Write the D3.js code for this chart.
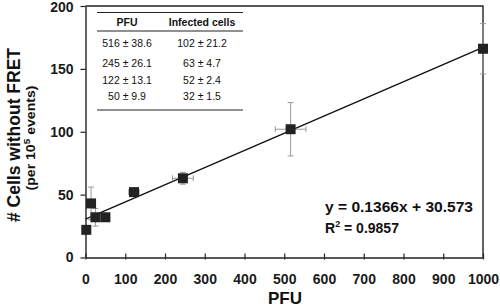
<!DOCTYPE html>
<html>
<head>
<meta charset="utf-8">
<script src="https://cdn.jsdelivr.net/npm/d3@7"></script>
<style>
  body { margin: 0; background: #fff; }
  svg { font-family: "Liberation Sans", Arial, sans-serif; }
</style>
</head>
<body>
<script>
// Data
var pfu      = [2, 14, 25, 50, 122, 245, 516, 1000];
var pfuErr   = [0, 0, 8, 9.9, 13.1, 26.1, 38.6, 0];
var cells    = [22, 43, 32, 32, 52, 63, 102, 166];
var cellsErr = [0, 13, 7, 1.5, 2.4, 4.7, 21.2, 20];

var xTicks = [0, 100, 200, 300, 400, 500, 600, 700, 800, 900, 1000];
var yTicks = [0, 50, 100, 150, 200];

// Table in the upper left
var tableHeader = ["PFU", "Infected cells"];
var tablePfu   = ["516 ± 38.6", "245 ± 26.1", "122 ± 13.1", "50 ± 9.9"];
var tableCells = ["102 ± 21.2", "63 ± 4.7", "52 ± 2.4", "32 ± 1.5"];

// Linear fit
var slope = 0.1366;
var intercept = 30.573;
var r2 = 0.9857;

var w = 500;
var h = 308;

var dataset = pfu.map(function(d, i) {
  return { x: d, y: cells[i], ex: pfuErr[i], ey: cellsErr[i] };
});

var xScale = d3.scaleLinear().domain([0, 1000]).range([85.5, 483]);
var yScale = d3.scaleLinear().domain([0, 200]).range([257.5, 6]);

var svg = d3.select("body")
  .append("svg")
  .attr("width", w)
  .attr("height", h);

// Frame (top and right)
svg.append("path")
  .attr("d", "M" + xScale(0) + "," + yScale(200) + "H" + xScale(1000) + "V" + yScale(0))
  .attr("fill", "none")
  .attr("stroke", "#222")
  .attr("stroke-width", 1.4);

// Axes
var xAxis = d3.axisBottom(xScale).tickValues(xTicks).tickFormat(d3.format("d"))
  .tickSizeInner(-4).tickSizeOuter(0).tickPadding(17);
var yAxis = d3.axisLeft(yScale).tickValues(yTicks).tickFormat(d3.format("d"))
  .tickSizeInner(5).tickSizeOuter(0).tickPadding(7);

var gx = svg.append("g")
  .attr("transform", "translate(0," + yScale(0) + ")")
  .call(xAxis);
var gy = svg.append("g")
  .attr("transform", "translate(" + xScale(0) + ",0)")
  .call(yAxis);

[gx, gy].forEach(function(g) {
  g.select(".domain").attr("stroke", "#222").attr("stroke-width", 1.4);
  g.selectAll(".tick line").attr("stroke", "#222").attr("stroke-width", 1.2);
  g.selectAll(".tick text")
    .attr("fill", "#1a1a1a")
    .attr("font-size", "14px")
    .attr("font-weight", "bold");
});
// keep the top label inside the picture
gy.selectAll(".tick text").filter(function(d) { return d === 200; }).attr("dy", "0.4em");
// small downward stub on x ticks
gx.selectAll(".tick").append("line")
  .attr("y1", 0).attr("y2", 2)
  .attr("stroke", "#222").attr("stroke-width", 1.2);

// Regression line
svg.append("line")
  .attr("x1", xScale(0))
  .attr("y1", yScale(intercept))
  .attr("x2", xScale(1000))
  .attr("y2", yScale(slope * 1000 + intercept))
  .attr("stroke", "#111")
  .attr("stroke-width", 1.4);

// Error bars
var cap = 3;
var eb = svg.append("g").attr("stroke", "#999").attr("stroke-width", 1);
dataset.forEach(function(d) {
  if (d.ey > 0) {
    eb.append("line")
      .attr("x1", xScale(d.x)).attr("x2", xScale(d.x))
      .attr("y1", yScale(d.y - d.ey)).attr("y2", yScale(d.y + d.ey));
    [d.y - d.ey, d.y + d.ey].forEach(function(v) {
      eb.append("line")
        .attr("x1", xScale(d.x) - cap).attr("x2", xScale(d.x) + cap)
        .attr("y1", yScale(v)).attr("y2", yScale(v));
    });
  }
  if (d.ex > 0) {
    eb.append("line")
      .attr("x1", xScale(d.x - d.ex)).attr("x2", xScale(d.x + d.ex))
      .attr("y1", yScale(d.y)).attr("y2", yScale(d.y));
    [d.x - d.ex, d.x + d.ex].forEach(function(v) {
      eb.append("line")
        .attr("x1", xScale(v)).attr("x2", xScale(v))
        .attr("y1", yScale(d.y) - cap).attr("y2", yScale(d.y) + cap);
    });
  }
});

// Square markers
var s = 10;
svg.selectAll("rect.pt")
  .data(dataset)
  .enter()
  .append("rect")
  .attr("class", "pt")
  .attr("x", function(d) { return xScale(d.x) - s / 2; })
  .attr("y", function(d) { return yScale(d.y) - s / 2; })
  .attr("width", s)
  .attr("height", s)
  .attr("fill", "#222");

// Table
var tbl = svg.append("g").attr("fill", "#111");
var colX = [127, 202];
var rowY = [47, 67, 84, 100];
[12.5, 31, 110].forEach(function(y) {
  tbl.append("line").attr("x1", 97).attr("x2", 243).attr("y1", y).attr("y2", y)
    .attr("stroke", "#222").attr("stroke-width", 1.2);
});
tableHeader.forEach(function(t, i) {
  tbl.append("text").attr("x", colX[i]).attr("y", 25.5)
    .attr("text-anchor", "middle").attr("font-size", "10.5px").attr("font-weight", "bold")
    .text(t);
});
tablePfu.forEach(function(t, i) {
  tbl.append("text").attr("x", colX[0]).attr("y", rowY[i])
    .attr("text-anchor", "middle").attr("font-size", "10.5px").text(t);
  tbl.append("text").attr("x", colX[1]).attr("y", rowY[i])
    .attr("text-anchor", "middle").attr("font-size", "10.5px").text(tableCells[i]);
});

// Equation
var eq = svg.append("g").attr("fill", "#111").attr("font-weight", "bold").attr("font-size", "14px");
eq.append("text").attr("x", 325).attr("y", 211.5)
  .attr("textLength", 148).attr("lengthAdjust", "spacingAndGlyphs")
  .text("y = " + slope + "x + " + intercept);
var r2t = eq.append("text").attr("x", 325).attr("y", 232.5);
r2t.append("tspan").text("R");
r2t.append("tspan").attr("dy", -6).attr("font-size", "9px").text("2");
r2t.append("tspan").attr("dy", 6).text(" = " + r2);

// Axis titles
svg.append("text")
  .attr("x", 285).attr("y", 304)
  .attr("text-anchor", "middle")
  .attr("font-size", "17px").attr("font-weight", "bold").attr("fill", "#111")
  .text("PFU");

var yt = svg.append("g").attr("transform", "translate(20,135) rotate(-90)")
  .attr("fill", "#111").attr("font-weight", "bold").attr("text-anchor", "middle");
yt.append("text").attr("y", 0).attr("font-size", "18px")
  .attr("textLength", 174).attr("lengthAdjust", "spacingAndGlyphs")
  .text("# Cells without FRET");
var sub = yt.append("text").attr("x", -3).attr("y", 15).attr("font-size", "12px")
  .attr("textLength", 105).attr("lengthAdjust", "spacingAndGlyphs");
sub.append("tspan").text("(per 10");
sub.append("tspan").attr("dy", -5).attr("font-size", "8.5px").text("5");
sub.append("tspan").attr("dy", 5).text(" events)");
</script>
</body>
</html>
